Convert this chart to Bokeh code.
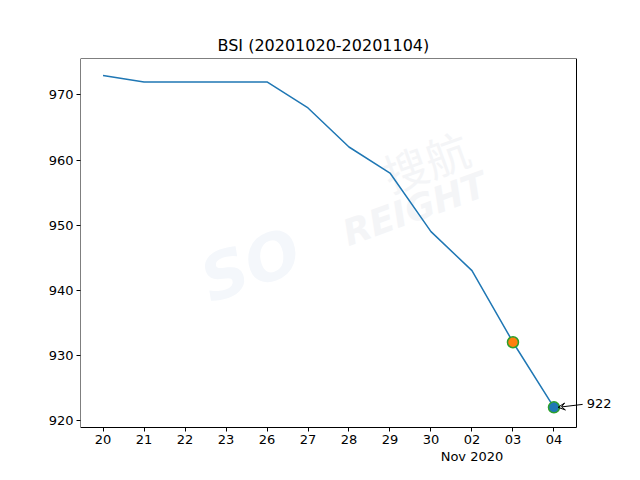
from bokeh.plotting import figure
from bokeh.models import Range1d, FixedTicker, Label, Arrow, VeeHead, ColumnDataSource, BoxAnnotation
from bokeh.embed import file_html
from bokeh.resources import INLINE
import math

labels = ["20", "21", "22", "23", "26", "27", "28", "29", "30", "02", "03", "04"]
month_label = "Nov 2020"
month_at = 9
values = [973, 972, 972, 972, 972, 968, 962, 958, 949, 943, 932, 922]
idx = list(range(len(labels)))

FONT = "DejaVu Sans"
X0, X1 = -0.55, 11.55          # visible axes box (matplotlib-like margins)
Y0, Y1 = 918.9, 975.6
W, H = 624, 464
LEFT, TOP, RIGHT_BOX, BOTTOM_BOX = 80, 58, 576, 427
PXY = (Y1 - Y0) / (BOTTOM_BOX - TOP)   # data units per pixel (y)
# frame extends to the right/bottom edges so texts outside the box are drawn
XR = X0 + (W - LEFT) * (X1 - X0) / (RIGHT_BOX - LEFT)
YB = Y0 - (H - BOTTOM_BOX) * PXY

p = figure(width=W, height=H, output_backend="svg", toolbar_location=None,
           x_range=Range1d(X0, XR), y_range=Range1d(YB, Y1),
           min_border_left=LEFT, min_border_right=0, min_border_top=TOP, min_border_bottom=0,
           title="BSI (20201020-20201104)")
p.title.align = "left"
p.title.offset = 137
p.title.text_font = FONT
p.title.text_font_size = "16px"
p.title.text_font_style = "normal"
p.title.text_color = "black"
p.title.standoff = 8

p.xgrid.visible = False
p.ygrid.visible = False
p.outline_line_color = None
p.background_fill_color = "white"
p.border_fill_color = "white"

for ax in (p.xaxis[0], p.yaxis[0]):
    ax.major_label_text_font = FONT
    ax.major_label_text_font_size = "13px"
    ax.major_label_text_color = "black"
    ax.axis_line_color = None
    ax.major_tick_line_color = "black"
    ax.major_tick_out = 4
    ax.major_tick_in = 0
    ax.minor_tick_line_color = None
    ax.major_label_standoff = 3

p.xaxis.ticker = FixedTicker(ticks=idx)
p.xaxis.major_label_overrides = {i: l for i, l in zip(idx, labels)}
p.xaxis.fixed_location = Y0
p.yaxis.ticker = FixedTicker(ticks=[920, 930, 940, 950, 960, 970])

# month/year line under the "02" tick
p.add_layout(Label(x=idx[month_at], y=Y0 - 36 * PXY, text=month_label, text_font=FONT,
                   text_font_size="13px", text_color="black", text_align="center",
                   text_baseline="bottom"))

# axes box
p.add_layout(BoxAnnotation(left=X0, right=X1, bottom=Y0, top=Y1, fill_color=None,
                           line_color="black", line_width=1, line_alpha=1))

# faint watermark (behind the data)
ang = math.radians(20)
p.add_layout(Label(x=3.6, y=943.8, text="SO", text_font=FONT, text_font_size="64px",
                   text_font_style="bold italic", text_color="#f4f7fb", text_align="center",
                   text_baseline="middle", angle=ang, level="underlay"))
p.add_layout(Label(x=7.87, y=959.9, text="搜航", text_font="Noto Sans CJK SC", text_font_size="44px",
                   text_color="#f4f5f7", text_align="center", text_baseline="middle", angle=ang,
                   level="underlay"))
p.add_layout(Label(x=7.6, y=952.5, text="REIGHT", text_font=FONT, text_font_size="36px",
                   text_font_style="bold italic", text_color="#f4f5f7", text_align="center",
                   text_baseline="middle", angle=ang, level="underlay"))

src = ColumnDataSource(dict(x=idx, y=values))
p.line("x", "y", source=src, line_color="#1f77b4", line_width=1.5)

p.scatter([idx[-2]], [values[-2]], size=11, fill_color="#ff7f0e", line_color="#2ca02c", line_width=1.5)
p.scatter([idx[-1]], [values[-1]], size=11, fill_color="#1f77b4", line_color="#2ca02c", line_width=1.5)

p.add_layout(Arrow(end=VeeHead(size=7, line_color="black", fill_color=None, line_width=1),
                   x_start=idx[-1] + 0.7, y_start=values[-1] + 0.45,
                   x_end=idx[-1] + 0.1, y_end=values[-1],
                   line_color="black", line_width=1))
p.add_layout(Label(x=idx[-1] + 0.8, y=values[-1] + 0.6, text=str(values[-1]), text_font=FONT,
                   text_font_size="13px", text_color="black", text_baseline="middle"))

open("out.html", "w").write(file_html(p, INLINE))
